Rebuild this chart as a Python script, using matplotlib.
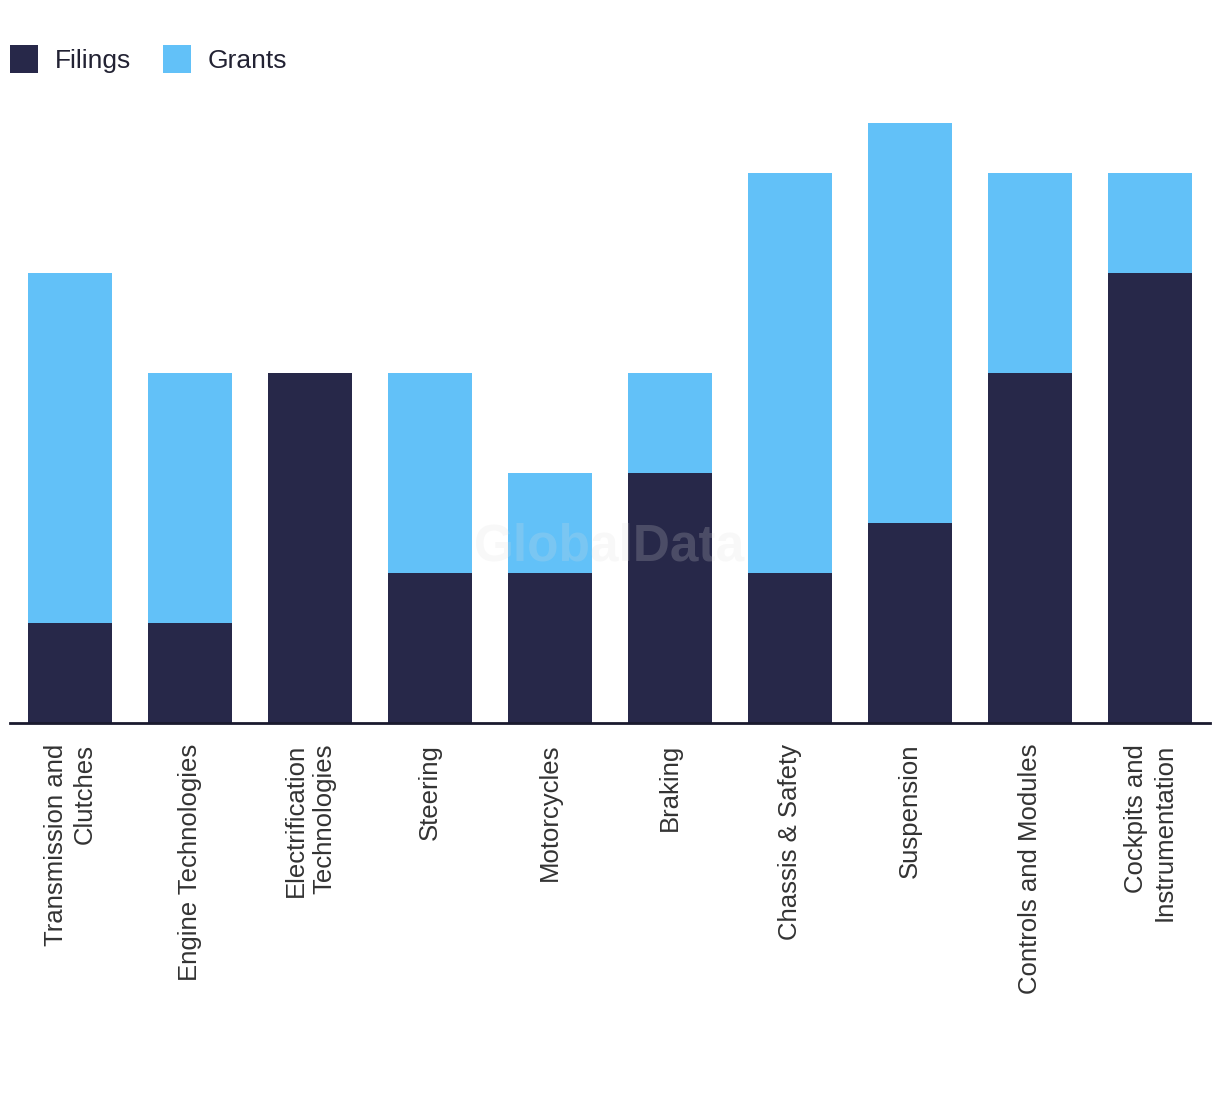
import numpy as np
import matplotlib.pyplot as plt

categories = ["Transmission and\nClutches", "Engine Technologies", "Electrification\nTechnologies",
              "Steering", "Motorcycles", "Braking", "Chassis & Safety", "Suspension",
              "Controls and Modules", "Cockpits and\nInstrumentation"]
filings = [2, 2, 7, 3, 3, 5, 3, 4, 7, 9]
grants = [7, 5, 0, 4, 2, 2, 8, 8, 4, 2]

dark = "#272849"
light = "#62C1F8"

plt.rcParams['font.family'] = ['Liberation Sans', 'DejaVu Sans']

fig = plt.figure(figsize=(12.2, 10.94), dpi=100)
ax = fig.add_axes([10/1220, (1094-723)/1094, 1200/1220, 625/1094])

x = np.arange(len(categories))
ax.bar(x, filings, width=0.7, color=dark, label="Filings")
ax.bar(x, grants, width=0.7, bottom=filings, color=light, label="Grants")

ax.set_xlim(-0.5, len(categories) - 0.5)
ax.set_ylim(0, 12.5)
ax.set_yticks([])
ax.set_xticks(x)
ax.set_xticklabels(categories, rotation=90, fontsize=18.5, color="#333333",
                   ha="center", va="top", multialignment="right", linespacing=1.25)
ax.tick_params(axis="x", length=0, pad=15)
for s in ["top", "right", "left"]:
    ax.spines[s].set_visible(False)
ax.spines["bottom"].set_color("#1a1a2e")
ax.spines["bottom"].set_linewidth(2)

fig.legend(loc="upper left", bbox_to_anchor=(10/1220, 1 - 45/1094), ncol=2, frameon=False,
           fontsize=19, handlelength=1.06, handleheight=1.27, columnspacing=1.2,
           handletextpad=0.64, borderpad=0, borderaxespad=0, labelcolor="#222233")

fig.text(0.5, 0.5, "GlobalData", fontsize=37, fontweight="bold", color="#dddddd",
         alpha=0.2, ha="center", va="center")

fig.savefig("out.png", dpi=100)
